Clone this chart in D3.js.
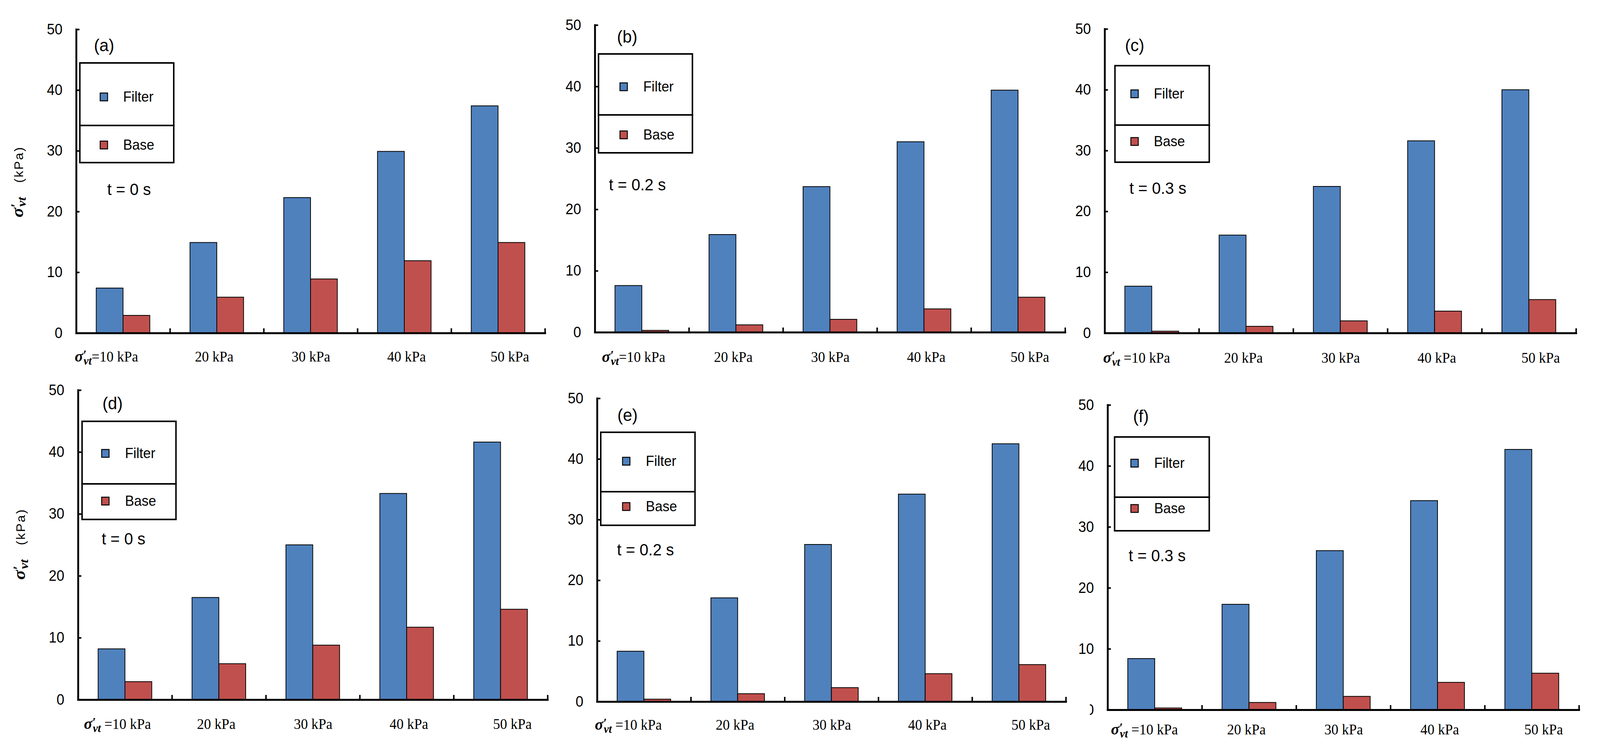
<!DOCTYPE html>
<html>
<head>
<meta charset="utf-8">
<script src="https://cdn.jsdelivr.net/npm/d3@7"></script>
<style>
  html, body { margin: 0; padding: 0; height: 100%; overflow: hidden; background: #fff; }
  svg { display: block; width: 100vw; height: 100vh; }
</style>
</head>
<body>
<!-- the browser caps the window width, so the 4328x1924 drawing is fitted to whatever viewport we get -->
<svg id="chart" viewBox="0 0 4328 1924" preserveAspectRatio="none"></svg>
<script>
// categories (confining stress) and series
const categories = ["10 kPa", "20 kPa", "30 kPa", "40 kPa", "50 kPa"];
const series = ["Filter", "Base"];
const panelLetters = ["(a)", "(b)", "(c)", "(d)", "(e)", "(f)"];
const timeLabels = ["t = 0 s", "t = 0.2 s", "t = 0.3 s", "t = 0 s", "t = 0.2 s", "t = 0.3 s"];
const yTicks = [0, 10, 20, 30, 40, 50];

// values (kPa)
const filterA = [7.4, 14.9, 22.3, 29.9, 37.4];
const baseA   = [2.9, 5.9, 8.9, 11.9, 14.9];
const filterB = [7.6, 15.9, 23.7, 31.0, 39.4];
const baseB   = [0.3, 1.2, 2.1, 3.8, 5.7];
const filterC = [7.7, 16.1, 24.1, 31.6, 40.0];
const baseC   = [0.3, 1.1, 2.0, 3.6, 5.5];
const filterD = [8.2, 16.5, 25.0, 33.3, 41.6];
const baseD   = [2.9, 5.8, 8.8, 11.7, 14.6];
const filterE = [8.3, 17.1, 25.9, 34.2, 42.5];
const baseE   = [0.4, 1.3, 2.3, 4.6, 6.1];
const filterF = [8.4, 17.3, 26.1, 34.3, 42.7];
const baseF   = [0.3, 1.2, 2.2, 4.5, 6.0];

const filterData = [filterA, filterB, filterC, filterD, filterE, filterF];
const baseData = [baseA, baseB, baseC, baseD, baseE, baseF];

// where each small chart sits on the page
// leg = [left, right, top, divider, bottom], legOff = [marker dx, text dx, filter baseline dy, base baseline dy]
const layout = [
  {x0: 206, x1: 1474, yTop: 75, y0: 852, leg: [216, 470, 161, 321, 416], legOff: [55, 117, 99, 62],
   letter: [254, 131], time: [290, 499], labBase: 925, lab0: 202, eqSpace: false, yTitle: [50, 465]},
  {x0: 1609, x1: 2881, yTop: 64, y0: 850, leg: [1619, 1873, 138, 294, 391], legOff: [58, 121, 96, 63],
   letter: [1669, 109], time: [1647, 487], labBase: 926, lab0: 1628, eqSpace: false},
  {x0: 2988, x1: 4263, yTop: 74, y0: 852, leg: [3016, 3271, 168, 320, 415], legOff: [43, 105, 84, 54],
   letter: [3043, 131], time: [3055, 496], labBase: 928, lab0: 2984, eqSpace: true},
  {x0: 211, x1: 1481, yTop: 998, y0: 1790, leg: [222, 476, 1078, 1238, 1329], legOff: [53, 116, 94, 56],
   letter: [277, 1047], time: [275, 1393], labBase: 1865, lab0: 227, eqSpace: true, yTitle: [56, 1392]},
  {x0: 1615, x1: 2883, yTop: 1019, y0: 1795, leg: [1625, 1880, 1106, 1258, 1344], legOff: [59, 122, 86, 50],
   letter: [1670, 1077], time: [1669, 1421], labBase: 1867, lab0: 1609, eqSpace: true},
  {x0: 2996, x1: 4271, yTop: 1036, y0: 1816, leg: [3015, 3271, 1118, 1272, 1358], legOff: [44, 107, 79, 41],
   letter: [3065, 1080], time: [3053, 1436], labBase: 1879, lab0: 3005, eqSpace: true, clipZero: 2948}
];
const labelShift = [0, -7, 1, 6, 32]; // the hand-placed category labels drift right

const colors = {Filter: "#4F81BD", Base: "#C0504D"};
const sans = "Arial, 'Liberation Sans', sans-serif";
const serif = "'Times New Roman', 'Liberation Serif', serif";

const svg = d3.select("#chart");
const defs = svg.append("defs");

layout.forEach((p, i) => {
  const g = svg.append("g");

  const x = d3.scaleBand().domain(categories).range([p.x0, p.x1]);
  // excel style 150% gap width
  const xs = d3.scaleBand().domain(series).range([0, x.bandwidth()]).paddingOuter(0.75);
  const y = d3.scaleLinear().domain([0, 50]).range([p.y0, p.yTop]);

  const rows = categories.map((c, j) => ({cat: c, Filter: filterData[i][j], Base: baseData[i][j]}));

  // bars
  g.append("g").selectAll("g")
    .data(rows)
    .enter()
    .append("g")
    .attr("transform", d => `translate(${x(d.cat)},0)`)
    .selectAll("rect")
    .data(d => series.map(s => ({s: s, v: d[s]})))
    .enter()
    .append("rect")
    .attr("x", d => xs(d.s))
    .attr("width", xs.bandwidth())
    .attr("y", d => y(d.v))
    .attr("height", d => y(0) - y(d.v))
    .attr("fill", d => colors[d.s])
    .attr("stroke", "#000")
    .attr("stroke-width", 2);

  // y axis, ticks pointing inside
  const ya = g.append("g")
    .attr("transform", `translate(${p.x0},0)`)
    .call(d3.axisLeft(y).tickValues(yTicks).tickSizeInner(-9).tickSizeOuter(0).tickPadding(37));
  ya.select(".domain").attr("stroke-width", 5).attr("stroke-linecap", "square");
  ya.selectAll(".tick line").attr("stroke-width", 4);
  ya.selectAll(".tick text").attr("font-size", 38).attr("font-family", sans).attr("fill", "#000");

  if (p.clipZero) {
    // the 0 of this panel is half hidden in the original
    const id = "clip" + i;
    defs.append("clipPath").attr("id", id)
      .append("rect").attr("x", p.clipZero - p.x0).attr("y", -40).attr("width", 200).attr("height", 80);
    ya.selectAll(".tick").filter(d => d === 0).select("text").attr("clip-path", `url(#${id})`);
  }

  // x axis, boundary ticks pointing up
  const xl = d3.scaleLinear().domain([0, categories.length]).range([p.x0, p.x1]);
  const xa = g.append("g")
    .attr("transform", `translate(0,${p.y0})`)
    .call(d3.axisBottom(xl).tickValues(d3.range(1, categories.length + 1)).tickSizeInner(-12).tickSizeOuter(0).tickFormat(""));
  xa.select(".domain").attr("stroke-width", 5).attr("stroke-linecap", "square");
  xa.selectAll(".tick line").attr("stroke-width", 4);

  // category labels
  categories.forEach((c, j) => {
    if (j === 0) {
      const t = g.append("text")
        .attr("x", p.lab0)
        .attr("y", p.labBase)
        .attr("font-family", serif)
        .attr("font-size", 38)
        .attr("fill", "#000");
      t.append("tspan").attr("font-weight", "bold").attr("font-style", "italic").attr("font-size", 42).text("σ");
      t.append("tspan").attr("font-weight", "bold").attr("font-style", "italic").attr("font-size", 34).attr("dy", -6).text("′");
      t.append("tspan").attr("font-weight", "bold").attr("font-style", "italic").attr("font-size", 30).attr("dx", -8).attr("dy", 14).text("vt");
      t.append("tspan").attr("dy", -8).text((p.eqSpace ? " =" : "=") + c);
    } else {
      g.append("text")
        .attr("x", x(c) + x.bandwidth() / 2 + labelShift[j])
        .attr("y", p.labBase)
        .attr("text-anchor", "middle")
        .attr("font-family", serif)
        .attr("font-size", 38)
        .attr("fill", "#000")
        .text(c);
    }
  });

  // legend: two stacked boxes
  const [L, R, T, D, B] = p.leg;
  const [mdx, tdx, fdy, bdy] = p.legOff;
  const lg = g.append("g");
  lg.append("rect").attr("x", L).attr("y", T).attr("width", R - L).attr("height", D - T)
    .attr("fill", "#fff").attr("stroke", "#000").attr("stroke-width", 4);
  lg.append("rect").attr("x", L).attr("y", D).attr("width", R - L).attr("height", B - D)
    .attr("fill", "#fff").attr("stroke", "#000").attr("stroke-width", 4);
  const legRows = [{s: "Filter", base: T + fdy}, {s: "Base", base: D + bdy}];
  legRows.forEach(r => {
    lg.append("rect").attr("x", L + mdx).attr("y", r.base - 22).attr("width", 20).attr("height", 20)
      .attr("fill", colors[r.s]).attr("stroke", "#000").attr("stroke-width", 2.5);
    lg.append("text").attr("x", L + tdx).attr("y", r.base)
      .attr("font-family", sans).attr("font-size", 37).attr("fill", "#000").text(r.s);
  });

  // panel letter and time
  g.append("text").attr("x", p.letter[0]).attr("y", p.letter[1])
    .attr("font-family", sans).attr("font-size", 45).attr("fill", "#000").text(panelLetters[i]);
  g.append("text").attr("x", p.time[0]).attr("y", p.time[1])
    .attr("font-family", sans).attr("font-size", 43).attr("fill", "#000").text(timeLabels[i]);

  // y title on the left column only
  if (p.yTitle) {
    const yt = g.append("text")
      .attr("transform", `translate(${p.yTitle[0] + 12},${p.yTitle[1]}) rotate(-90)`)
      .attr("text-anchor", "middle")
      .attr("fill", "#000");
    yt.append("tspan").attr("font-family", serif).attr("font-weight", "bold").attr("font-style", "italic")
      .attr("font-size", 46).text("σ");
    yt.append("tspan").attr("font-family", serif).attr("font-weight", "bold").attr("font-style", "italic")
      .attr("font-size", 38).attr("dy", -6).text("′");
    yt.append("tspan").attr("font-family", serif).attr("font-weight", "bold").attr("font-style", "italic")
      .attr("font-size", 34).attr("dx", -8).attr("dy", 14).text("vt");
    yt.append("tspan").attr("font-family", sans).attr("font-size", 33).attr("letter-spacing", 3)
      .attr("dy", -8).attr("xml:space", "preserve").text("   (kPa)");
  }
});
</script>
</body>
</html>
